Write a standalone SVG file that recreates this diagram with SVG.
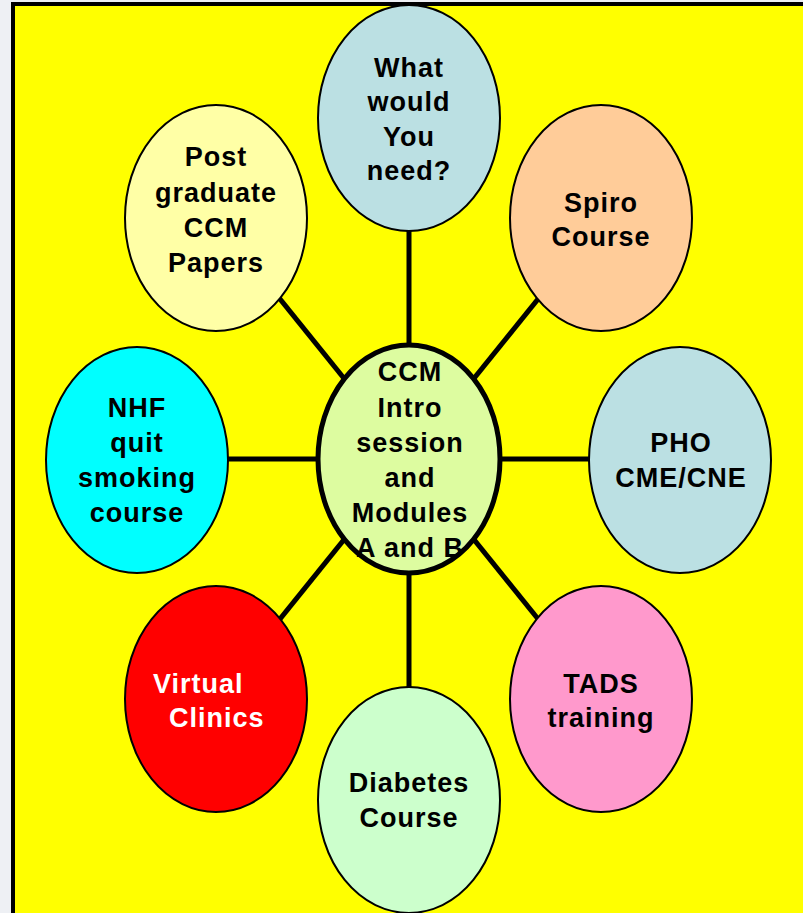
<svg xmlns="http://www.w3.org/2000/svg" width="803" height="913" viewBox="0 0 803 913">
<style>
.n{stroke:#000;stroke-width:2}
.t{font-family:"Liberation Sans",Arial,sans-serif;font-weight:bold;font-size:27px;letter-spacing:1px;fill:#000;text-anchor:middle}
.w{fill:#fff;text-anchor:start}
.c{stroke:#000;stroke-width:5;fill:none}
</style>
<rect x="0" y="0" width="803" height="913" fill="#eef0f4"/>
<rect x="13" y="4" width="800" height="920" fill="#ffff00" stroke="#000" stroke-width="4"/>
<g id="connectors">
<line class="c" x1="409" y1="459" x2="409" y2="118"/>
<line class="c" x1="409" y1="459" x2="409" y2="800"/>
<line class="c" x1="409" y1="459" x2="137" y2="459"/>
<line class="c" x1="409" y1="459" x2="680" y2="459"/>
<line class="c" x1="409" y1="459" x2="238" y2="247"/>
<line class="c" x1="409" y1="459" x2="580" y2="247"/>
<line class="c" x1="409" y1="459" x2="238" y2="671"/>
<line class="c" x1="409" y1="459" x2="580" y2="671"/>
</g>
<g id="need">
<ellipse class="n" cx="409" cy="118" rx="91" ry="113" fill="#bbe0e3"/>
<text class="t" x="409" y="77">What</text>
<text class="t" x="409" y="111">would</text>
<text class="t" x="409" y="146">You</text>
<text class="t" x="409" y="180">need?</text>
</g>
<g id="postgrad">
<ellipse class="n" cx="216" cy="218" rx="91" ry="113" fill="#ffffa6"/>
<text class="t" x="216" y="166">Post</text>
<text class="t" x="216" y="202">graduate</text>
<text class="t" x="216" y="237">CCM</text>
<text class="t" x="216" y="272">Papers</text>
</g>
<g id="spiro">
<ellipse class="n" cx="601" cy="218" rx="91" ry="113" fill="#ffcc99"/>
<text class="t" x="601" y="212">Spiro</text>
<text class="t" x="601" y="246">Course</text>
</g>
<g id="nhf">
<ellipse class="n" cx="137" cy="460" rx="91" ry="113" fill="#00ffff"/>
<text class="t" x="137" y="417">NHF</text>
<text class="t" x="137" y="452">quit</text>
<text class="t" x="137" y="487">smoking</text>
<text class="t" x="137" y="522">course</text>
</g>
<g id="pho">
<ellipse class="n" cx="680" cy="460" rx="91" ry="113" fill="#bbe0e3"/>
<text class="t" x="681" y="452">PHO</text>
<text class="t" x="681" y="487">CME/CNE</text>
</g>
<g id="virtual">
<ellipse class="n" cx="216" cy="699" rx="91" ry="113" fill="#ff0000"/>
<text class="t w" x="153" y="693">Virtual</text>
<text class="t w" x="169" y="727">Clinics</text>
</g>
<g id="tads">
<ellipse class="n" cx="601" cy="699" rx="91" ry="113" fill="#ff99cc"/>
<text class="t" x="601" y="693">TADS</text>
<text class="t" x="601" y="727">training</text>
</g>
<g id="diabetes">
<ellipse class="n" cx="409" cy="800" rx="91" ry="113" fill="#ccffcc"/>
<text class="t" x="409" y="792">Diabetes</text>
<text class="t" x="409" y="827">Course</text>
</g>
<g id="center">
<ellipse cx="409" cy="459" rx="91" ry="114" fill="#ddfca0" stroke="#000" stroke-width="5"/>
<text class="t" x="410" y="381">CCM</text>
<text class="t" x="410" y="417">Intro</text>
<text class="t" x="410" y="452">session</text>
<text class="t" x="410" y="487">and</text>
<text class="t" x="410" y="522">Modules</text>
<text class="t" x="410" y="557">A and B</text>
</g>
</svg>
